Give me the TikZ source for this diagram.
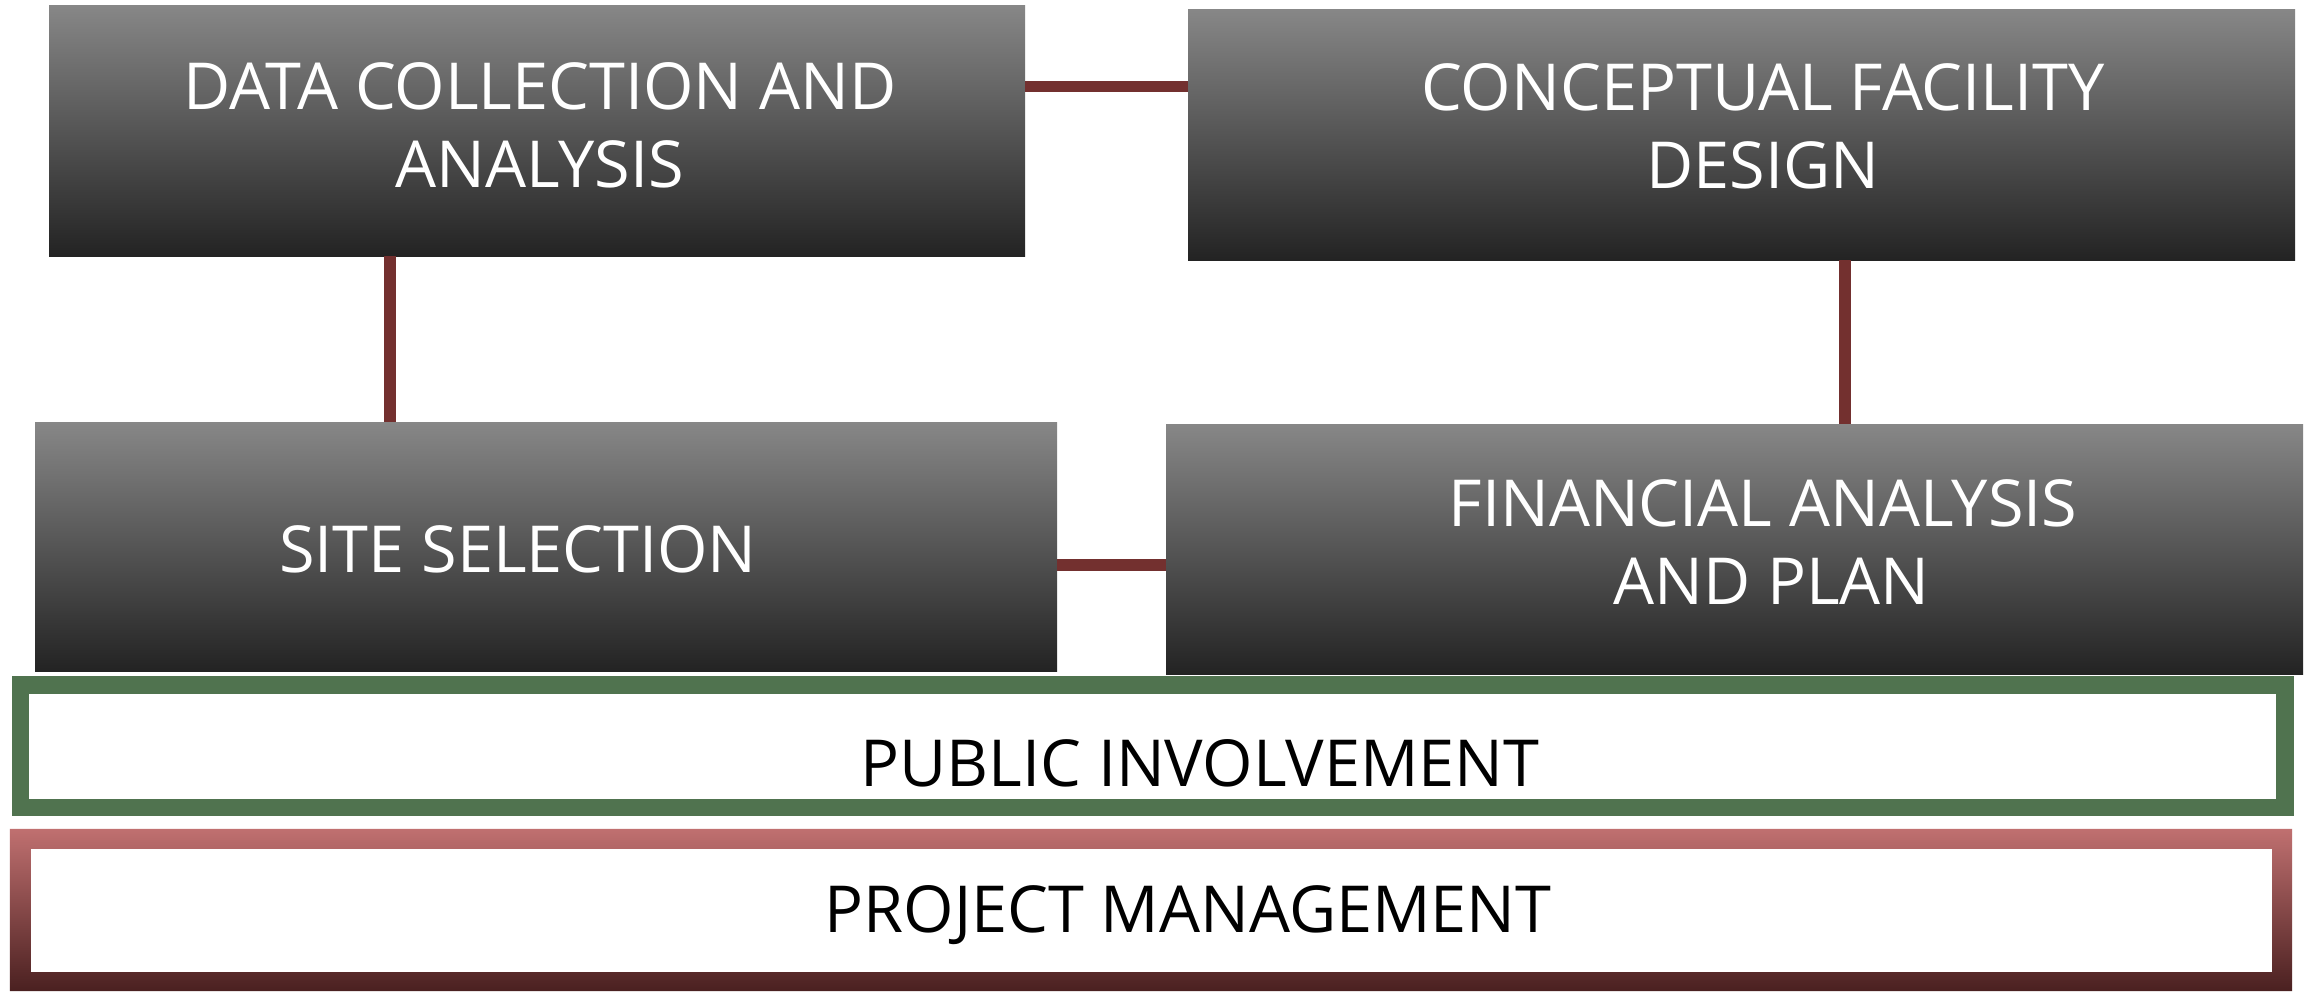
\documentclass[tikz,border=0pt]{standalone}
\usepackage{fontspec}
\setmainfont{Open Sans}
\usetikzlibrary{calc}
\definecolor{conncol}{HTML}{73302F}
\definecolor{pigreen}{HTML}{50734F}
\definecolor{gtop}{HTML}{878787}
\definecolor{gmid}{HTML}{3A3A3A}
\definecolor{gbot}{HTML}{232323}
\definecolor{rtop}{HTML}{C07070}
\definecolor{rmid}{HTML}{7A3434}
\definecolor{rbot}{HTML}{4A2020}
\begin{document}
\begin{tikzpicture}[x=1pt,y=-1pt,
  graybox/.style={rectangle, inner sep=0pt, top color=gtop, middle color=gmid, bottom color=gbot},
  boxtext/.style={text=white, font=\fontsize{64.8}{77.6}\selectfont, align=center, anchor=base, inner sep=0pt},
  bartext/.style={text=black, font=\fontsize{64.8}{77.6}\selectfont, anchor=base, inner sep=0pt},
  conn/.style={draw=conncol, line width=11.5pt}]
\useasboundingbox (0,0) rectangle (2313,991);
\fill[white] (0,0) rectangle (2313,991);
\node[graybox, minimum width=976, minimum height=251] (b1) at (537,130.5) {};
\node[graybox, minimum width=1107, minimum height=251] (b2) at (1741.5,134.5) {};
\node[graybox, minimum width=1022, minimum height=249] (b3) at (546,546.5) {};
\node[graybox, minimum width=1137, minimum height=250] (b4) at (1734.5,549) {};
\draw[conn] (b1.east |- 0,86.5) -- (b2.west |- 0,86.5);
\draw[conn] (b1.south -| 390,0) -- (b3.north -| 390,0);
\draw[conn] (b2.south -| 1845,0) -- (b4.north -| 1845,0);
\draw[conn] (b3.east |- 0,565) -- (b4.west |- 0,565);
% box texts (anchor = baseline of last line)
\node[boxtext] (t1) at (540,187) {DATA COLLECTION AND\\ANALYSIS};
\node[boxtext] (t2) at (1763,188) {CONCEPTUAL FACILITY\\DESIGN};
\node[boxtext] (t3) at (518,572) {SITE SELECTION};
\node[boxtext] (t4) at (1763,604) {FINANCIAL ANALYSIS\\\hspace*{0.26em}AND PLAN};
% public involvement
\node[draw=pigreen, line width=17.5pt, minimum width=2264.5, minimum height=122.5, inner sep=0pt] (pi) at (1152.75,746.25) {};
\node[bartext] (pit) at (1200,786) {PUBLIC INVOLVEMENT};
% project management
\node[inner sep=0pt, minimum width=2241, minimum height=123] (pm) at (1151.5,910.5) {};
\path[top color=rtop, middle color=rmid, bottom color=rbot, even odd rule]
  ($(pm.north west)+(-21,-20)$) rectangle ($(pm.south east)+(20,19)$)
  (pm.north west) rectangle (pm.south east);
\node[bartext] (pmt) at (1188,932) {PROJECT MANAGEMENT};
\end{tikzpicture}
\end{document}
